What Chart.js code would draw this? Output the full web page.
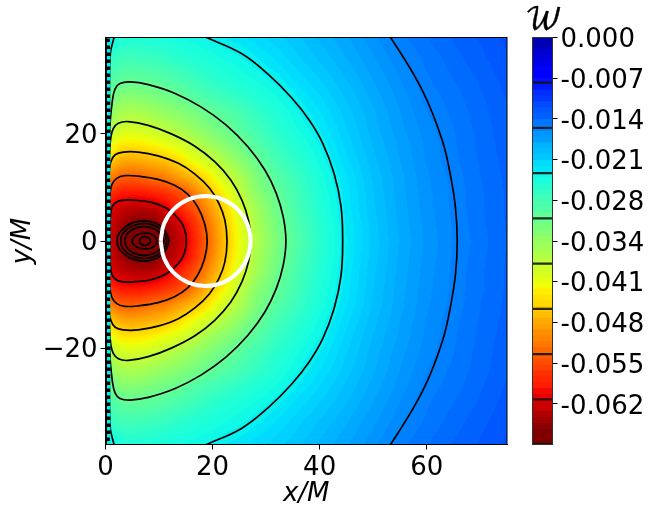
<!DOCTYPE html>
<html>
<head>
<meta charset="utf-8">
<style>
  html, body { margin: 0; padding: 0; background: #fff; }
  #wrap { position: relative; width: 653px; height: 515px; overflow: hidden; }
  canvas { position: absolute; left: 0; top: 0; }
  #cb-title { position: absolute; left: 525px; top: 2px; font: normal 30px 'DejaVu Math TeX Gyre', 'Liberation Serif', serif; color: #000; -webkit-text-stroke: 0.4px #000; }
</style>
<script src="https://cdn.jsdelivr.net/npm/chart.js@4/dist/chart.umd.js"></script>
</head>
<body>
<div id="wrap">
  <canvas id="field" width="653" height="515"></canvas>
  <canvas id="bar" width="653" height="515"></canvas>
  <div id="cb-title">𝒲</div>
</div>
<script>
const xNodes = [0, 1, 3, 5, 7, 9, 11, 13, 15, 17, 19, 22, 25, 28, 32, 36, 40, 45, 50, 55, 60, 65, 70, 75];
const yNodes = [0, 3, 6, 9, 12, 15, 18, 21, 24, 27, 30, 34, 38];
const wRow0 = [40, 63, 66.5, 68.5, 69.6, 68.8, 66.8, 64.5, 62, 58, 54.1, 47.8, 42.3, 37.5, 32.7, 28.9, 25.8, 22.7, 20.3, 18.4, 16.9, 15.7, 14.6, 13.6];
const wRow3 = [40, 62.5, 65.5, 67.2, 68, 67.3, 65.5, 63.5, 60.8, 57.3, 53.2, 47.2, 41.8, 36.9, 32.2, 28.6, 25.6, 22.6, 20.2, 18.3, 16.8, 15.6, 14.5, 13.5];
const wRow6 = [40, 61.5, 63.2, 64, 64.2, 63.8, 62.3, 60, 57.3, 54.7, 51, 46, 40.6, 36.2, 31.5, 28, 25.2, 22.4, 20, 18.2, 16.7, 15.5, 14.4, 13.5];
const wRow9 = [40, 58, 59.5, 59.7, 59.5, 58.8, 57.8, 56.5, 54.6, 51.4, 48, 43.4, 38.5, 34.2, 30.7, 27.5, 24.9, 22.3, 19.9, 18.1, 16.6, 15.5, 14.4, 13.5];
const wRow12 = [38, 52, 54, 54.3, 53.7, 52.6, 52, 50.2, 48.4, 46.7, 44.3, 40, 36.9, 33.2, 29.5, 26.9, 24.5, 22, 19.7, 18, 16.5, 15.4, 14.3, 13.4];
const wRow15 = [36, 46, 48.5, 48.8, 48.4, 47.8, 47, 45.5, 43.5, 41.6, 39.8, 37, 34.2, 31.3, 28, 25.8, 23.8, 21.5, 19.4, 17.8, 16.3, 15.2, 14.2, 13.3];
const wRow18 = [34, 42, 44, 44.2, 43.8, 43, 42, 41, 39.7, 37.8, 36, 33.8, 31.8, 29.6, 26.8, 24.9, 23.3, 21, 19.1, 17.6, 16.2, 15.1, 14.1, 13.2];
const wRow21 = [32, 37.5, 39.6, 40, 39.6, 39, 37.9, 36.8, 35.6, 34.4, 33.2, 31.5, 29.7, 27.8, 25.7, 24, 22.6, 20.6, 18.8, 17.3, 16, 15, 14, 13.1];
const wRow24 = [30, 34.5, 36.5, 36.8, 36.4, 35.6, 34.7, 34, 33.2, 32.2, 31, 29.7, 28.3, 26.7, 24.9, 23.4, 22, 20.2, 18.6, 17.1, 15.7, 14.8, 13.9, 13];
const wRow27 = [28, 31.5, 33.5, 33.6, 33.2, 32.7, 32, 31.3, 30.2, 29.2, 28.3, 27.2, 26.2, 25.1, 24, 22.6, 21.3, 19.7, 18.2, 16.8, 15.4, 14.6, 13.7, 12.8];
const wRow30 = [26, 29, 30.3, 30.6, 30.4, 30, 29.4, 28.7, 28, 27.2, 26.4, 25.4, 24.6, 24, 23, 21.7, 20.6, 19.2, 17.8, 16.4, 15.1, 14.3, 13.5, 12.6];
const wRow34 = [24, 26.5, 27.5, 27.6, 27.3, 27, 26.5, 26, 25.5, 25, 24.6, 24, 23.5, 22.8, 21.8, 20.7, 19.7, 18.5, 17.2, 15.9, 14.8, 13.9, 13.1, 12.3];
const wRow38 = [20, 23, 24.6, 24.8, 24.7, 24.5, 24.3, 24, 23.8, 23.5, 23.2, 22.7, 22.2, 21.6, 20.8, 20, 19, 17.9, 16.6, 15.2, 14.3, 13.5, 12.8, 12];
const wRows = [wRow0, wRow3, wRow6, wRow9, wRow12, wRow15, wRow18, wRow21, wRow24, wRow27, wRow30, wRow34, wRow38];

// contour lines, upper half only (the picture is mirror symmetric about y=0)
const contour155 = [[65.7, 0], [65.4, 6], [64.6, 11.4], [62.9, 18.8], [59.2, 28.1], [53.3, 37.9], [51.5, 40]];
const contour232 = [[44.3, 0], [44, 6.4], [42.7, 12.6], [40.6, 18.2], [38.1, 22.5], [34.8, 26.7], [30.3, 31.2], [25.4, 35], [19.1, 37.9], [16, 39.2]];
const contour232Left = [[0.7, 0], [0.75, 30], [0.9, 35], [1.2, 36.5], [1.6, 38], [1.9, 39.5]];
const contour309 = [[33.7, 0], [33.2, 4.5], [31.9, 8.9], [29.8, 13.2], [26.6, 17.6], [22.5, 21.7], [17.9, 25], [12.9, 27.6], [8, 29.2], [4.6, 29.7], [2.7, 29.4], [1.8, 28.4], [1.3, 26.3], [0.8, 20.7], [0.7, 0]];
const contour387 = [[27.2, 0], [26.7, 3.9], [25.5, 7.6], [23.4, 11.4], [20.4, 14.8], [16.7, 17.7], [12.3, 20], [8, 21.6], [4.25, 22.3], [2.4, 22], [1.45, 21], [1, 19.4], [0.7, 15.7], [0.7, 0]];
const contour464 = [[22.7, 0], [22.3, 3.9], [21.2, 7], [19.4, 9.9], [16.7, 12.5], [13.6, 14.5], [9.8, 15.9], [6.1, 16.6], [3.3, 16.6], [1.8, 16.1], [1, 14.8], [0.65, 12.6], [0.7, 0]];
const contour541 = [[19, 0], [18.5, 3.3], [17.2, 6.4], [15.4, 8.7], [12.9, 10.4], [9.8, 11.5], [6.1, 12.1], [3.6, 12.2], [2.1, 11.7], [1.15, 10.4], [0.8, 8.3], [0.75, 0]];
const contour618 = [[15.1, 0], [14.7, 2.4], [13.6, 4.2], [11.4, 6.1], [8.6, 7.2], [5.5, 7.6], [3, 7.6], [1.8, 7.1], [1.15, 6.1], [0.9, 4.5], [0.8, 2], [0.8, 0]];
const ring1 = [[11.8, 0], [11.3, 1.6], [10, 3], [8.2, 3.65], [6.5, 3.7], [4.6, 3.2], [3, 2], [2.3, 0.9], [2.2, 0]];
const ring2 = [[11.4, 0], [10.9, 1.4], [9.7, 2.6], [8, 3.2], [6.5, 3.2], [4.8, 2.7], [3.5, 1.7], [2.95, 0.8], [2.9, 0]];
const ring3 = [[10.9, 0], [10.4, 1.2], [9.3, 2.2], [7.8, 2.65], [6.3, 2.6], [4.8, 2], [3.9, 1.1], [3.6, 0]];
const ring4 = [[9.6, 0], [9.2, 0.9], [8.2, 1.4], [7.1, 1.45], [6, 1.2], [5.2, 0.6], [5, 0]];
const ring5 = [[8.4, 0], [8, 0.6], [7.35, 0.8], [6.7, 0.6], [6.3, 0]];
const contours = [contour155, contour232, contour232Left, contour309, contour387, contour464, contour541, contour618, ring1, ring2, ring3, ring4, ring5];

// white circle, upper half
const circlePts = [[27.1, 0], [26.46, 3.21], [24.64, 5.94], [21.91, 7.76], [18.7, 8.4], [15.49, 7.76], [12.76, 5.94], [10.94, 3.21], [10.3, 0]];
// black and cyan strip along the left edge
const wallPts = [[0.4, -38], [0.4, 38]];

const xTicks = [0, 20, 40, 60];
const yTicks = [-20, 0, 20];

// colorbar
const cbTicks = [0, -6.96, -13.92, -20.88, -27.84, -34.8, -41.76, -48.72, -55.68, -62.64];
const cbLabels = ['0.000', '-0.007', '-0.014', '-0.021', '-0.028', '-0.034', '-0.041', '-0.048', '-0.055', '-0.062'];
const cbLines = [7.73, 15.47, 23.2, 30.93, 38.67, 46.4, 54.13, 61.87, 69.5];
const cbBands = [0, 1, 2, 3, 4, 5, 6, 7, 8, 9, 10, 11, 12, 13, 14, 15, 16, 17, 18, 19, 20, 21, 22, 23, 24, 25, 26, 27, 28, 29, 30, 31, 32, 33, 34, 35, 36, 37, 38, 39, 40, 41, 42, 43, 44, 45, 46, 47, 48, 49, 50, 51, 52, 53, 54, 55, 56, 57, 58, 59, 60, 61, 62, 63, 64, 65, 66, 67, 68, 69];

const W_RANGE = 69.6;
const FONT = { family: "'DejaVu Sans'", size: 26 };

// matplotlib jet
function jet(t) {
  const ramp = (pts) => {
    if (t <= pts[0][0]) return pts[0][1];
    for (let i = 1; i < pts.length; i++) {
      if (t <= pts[i][0]) {
        const f = (t - pts[i - 1][0]) / (pts[i][0] - pts[i - 1][0]);
        return pts[i - 1][1] + f * (pts[i][1] - pts[i - 1][1]);
      }
    }
    return pts[pts.length - 1][1];
  };
  return [
    Math.round(255 * ramp([[0.35, 0], [0.66, 1], [0.89, 1], [1, 0.5]])),
    Math.round(255 * ramp([[0.125, 0], [0.375, 1], [0.64, 1], [0.91, 0]])),
    Math.round(255 * ramp([[0, 0.5], [0.11, 1], [0.34, 1], [0.65, 0]]))
  ];
}
function wColor(v) {
  const level = Math.round(v / W_RANGE * 100) / 100;
  return jet(Math.min(1, level + 0.03));
}

// whole line from its upper half; a half ending on y=0 closes up
function mirrored(pts) {
  const upper = pts.map(p => ({ x: p[0], y: p[1] }));
  const lower = pts.filter(p => p[1] !== 0).map(p => ({ x: p[0], y: -p[1] })).reverse();
  const last = pts[pts.length - 1];
  const start = last[1] === 0 ? [{ x: last[0], y: 0 }] : [];
  return start.concat(lower, upper);
}

function lookup(nodes, v) {
  let i = 0;
  while (i < nodes.length - 2 && v > nodes[i + 1]) i++;
  return [i, Math.min(1, Math.max(0, (v - nodes[i]) / (nodes[i + 1] - nodes[i])))];
}

// paints the W grid under the lines, through the chart's own scales
const heatField = {
  id: 'heatField',
  beforeDatasetsDraw(chart) {
    const a = chart.chartArea, sx = chart.scales.x, sy = chart.scales.y;
    const w = Math.ceil(a.right - a.left), h = Math.ceil(a.bottom - a.top);
    const off = document.createElement('canvas');
    off.width = w; off.height = h;
    const octx = off.getContext('2d');
    const img = octx.createImageData(w, h);
    for (let j = 0; j < h; j++) {
      const [iy, fy] = lookup(yNodes, Math.abs(sy.getValueForPixel(a.top + j + 0.5)));
      for (let i = 0; i < w; i++) {
        const [ix, fx] = lookup(xNodes, sx.getValueForPixel(a.left + i + 0.5));
        const v = (wRows[iy][ix] * (1 - fx) + wRows[iy][ix + 1] * fx) * (1 - fy) +
                  (wRows[iy + 1][ix] * (1 - fx) + wRows[iy + 1][ix + 1] * fx) * fy;
        const c = wColor(v), k = (j * w + i) * 4;
        img.data[k] = c[0]; img.data[k + 1] = c[1]; img.data[k + 2] = c[2]; img.data[k + 3] = 255;
      }
    }
    octx.putImageData(img, 0, 0);
    chart.ctx.drawImage(off, a.left, a.top, a.right - a.left, a.bottom - a.top);
  }
};

const frame = {
  id: 'frame',
  afterDraw(chart) {
    const a = chart.chartArea, ctx = chart.ctx;
    ctx.save();
    ctx.strokeStyle = chart.options.frameColor || '#000';
    ctx.lineWidth = 1;
    ctx.strokeRect(a.left, a.top, a.right - a.left, a.bottom - a.top);
    ctx.restore();
  }
};

const lineSets = [
  { label: 'circle', data: mirrored(circlePts), borderColor: '#fff', borderWidth: 4, tension: 0.4, order: 1 },
  ...contours.map((c, i) => ({ label: 'contour ' + i, data: mirrored(c), borderColor: '#000', borderWidth: 1.7, tension: 0.4, order: 3 })),
  { label: 'wall dots', data: wallPts.map(p => ({ x: p[0] + 0.2, y: p[1] })), borderColor: '#00f0f0', borderWidth: 3.5, borderDash: [3.5, 3.5], order: 0 },
  { label: 'wall', data: wallPts.map(p => ({ x: p[0], y: p[1] })), borderColor: '#000', borderWidth: 4.6, order: 2 }
];

new Chart(document.getElementById('field'), {
  type: 'scatter',
  data: { datasets: lineSets.map(d => ({ showLine: true, pointRadius: 0, fill: false, ...d })) },
  plugins: [heatField, frame],
  options: {
    responsive: false,
    animation: false,
    layout: { padding: { top: 37.5, right: 146, left: 8, bottom: 5 } },
    plugins: { legend: { display: false }, tooltip: { enabled: false } },
    scales: {
      x: {
        type: 'linear', min: 0, max: 75,
        afterBuildTicks: s => { s.ticks = xTicks.map(v => ({ value: v })); },
        afterFit: s => { s.height = 65.5; },
        ticks: { color: '#000', font: FONT, padding: 3, maxRotation: 0, callback: v => String(v) },
        grid: { drawOnChartArea: false, color: '#000', tickLength: 5 },
        border: { color: '#000' },
        title: { display: true, text: 'x/M', color: '#000', padding: 0, font: { ...FONT, style: 'italic' } }
      },
      y: {
        type: 'linear', min: -38, max: 38,
        afterBuildTicks: s => { s.ticks = yTicks.map(v => ({ value: v })); },
        afterFit: s => { s.width = 97.5; },
        ticks: { color: '#000', font: FONT, padding: 3, labelOffset: 2, callback: v => String(v).replace('-', '\u2212') },
        grid: { drawOnChartArea: false, color: '#000', tickLength: 5 },
        border: { color: '#000' },
        title: { display: true, text: 'y/M', color: '#000', padding: 0, font: { ...FONT, style: 'italic' } }
      }
    }
  }
});

const bandSets = cbBands.map((b, i) => {
  const c = wColor(b + 0.5);
  return { data: [[-b, -W_RANGE]], backgroundColor: `rgb(${c[0]},${c[1]},${c[2]})`, order: 200 - i, grouped: false };
});
const lineBars = cbLines.map(v => ({ data: [[-v + 0.14, -v - 0.14]], backgroundColor: 'rgba(20,20,20,0.9)', order: 0, grouped: false }));

new Chart(document.getElementById('bar'), {
  type: 'bar',
  data: { labels: ['W'], datasets: bandSets.concat(lineBars) },
  plugins: [frame],
  options: {
    responsive: false,
    animation: false,
    frameColor: '#333',
    barPercentage: 1,
    categoryPercentage: 1,
    layout: { padding: { left: 532.5, top: 37.5, bottom: 70.5 } },
    plugins: { legend: { display: false }, tooltip: { enabled: false } },
    scales: {
      x: { display: false },
      y: {
        position: 'right', min: -W_RANGE, max: 0,
        afterBuildTicks: s => { s.ticks = cbTicks.map(v => ({ value: v })); },
        afterFit: s => { s.width = 100.5; },
        ticks: {
          color: '#000', font: FONT, padding: 3, autoSkip: false, labelOffset: 3,
          callback: (v, i) => cbLabels[i]
        },
        grid: { drawOnChartArea: false, color: '#000', tickLength: 5 },
        border: { color: '#333' }
      }
    }
  }
});
</script>
</body>
</html>
